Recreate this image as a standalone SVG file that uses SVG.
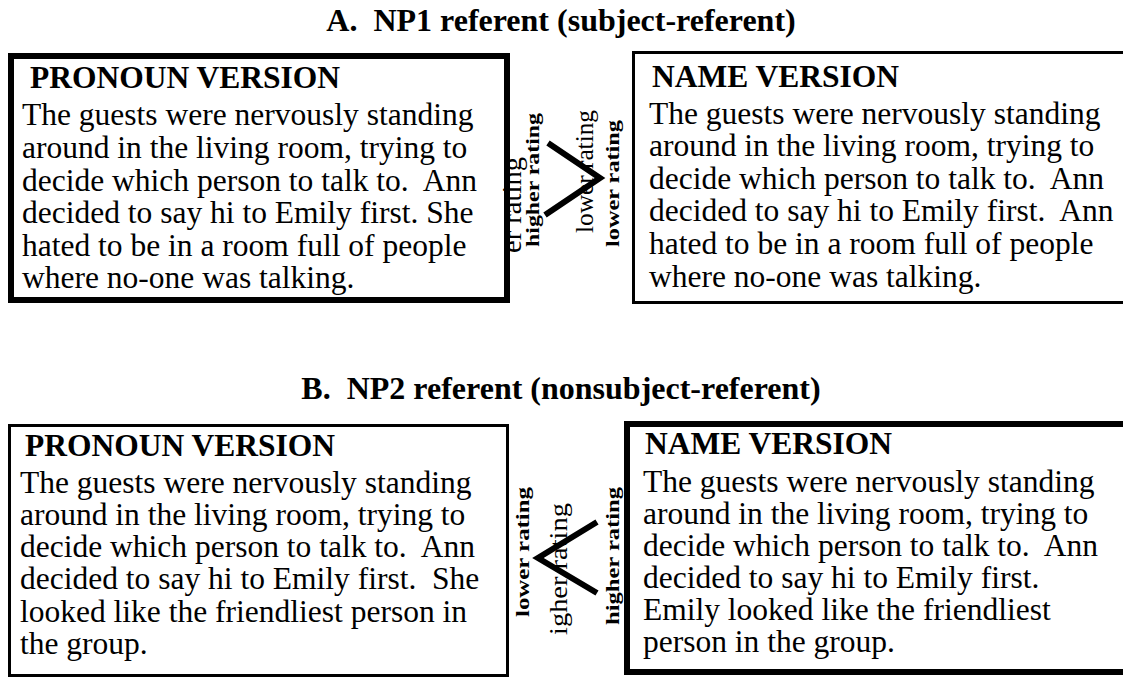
<svg xmlns="http://www.w3.org/2000/svg" width="1123" height="692" viewBox="0 0 1123 692">
<style>
text{font-family:"Liberation Serif","Times New Roman",Times,serif;fill:#000}
.title{font-weight:bold;font-size:32px;white-space:pre}
.head{font-weight:bold;font-size:31.5px}
.body{font-size:31.5px;white-space:pre}
.rot{font-size:25px}
.cond{font-weight:bold;font-size:18px}
.box{fill:#fff;stroke:#000}
.vline{fill:none;stroke:#000;stroke-width:6;stroke-linejoin:miter}
</style>
<rect width="1123" height="692" fill="#fff"/>
<text class="title" x="561" y="31" text-anchor="middle">A.  NP1 referent (subject-referent)</text>
<text class="title" x="561" y="399" text-anchor="middle">B.  NP2 referent (nonsubject-referent)</text>

<g id="a-pronoun">
<rect class="box" x="11" y="56" width="496" height="244" stroke-width="6"/>
<text class="head" x="30" y="88">PRONOUN VERSION</text>
<text class="body" x="22" y="125">The guests were nervously standing</text>
<text class="body" x="22" y="158">around in the living room, trying to</text>
<text class="body" x="22" y="191">decide which person to talk to.  Ann</text>
<text class="body" x="22" y="223">decided to say hi to Emily first. She</text>
<text class="body" x="22" y="256">hated to be in a room full of people</text>
<text class="body" x="22" y="288">where no-one was talking.</text>
</g>

<g id="a-name">
<rect class="box" x="633.5" y="52.5" width="495" height="250" stroke-width="3"/>
<text class="head" x="652" y="87">NAME VERSION</text>
<text class="body" x="649" y="124">The guests were nervously standing</text>
<text class="body" x="649" y="156">around in the living room, trying to</text>
<text class="body" x="649" y="189">decide which person to talk to.  Ann</text>
<text class="body" x="649" y="221">decided to say hi to Emily first.  Ann</text>
<text class="body" x="649" y="254">hated to be in a room full of people</text>
<text class="body" x="649" y="287">where no-one was talking.</text>
</g>

<g id="b-pronoun">
<rect class="box" x="9.5" y="425.5" width="498" height="250" stroke-width="3"/>
<text class="head" x="25" y="456">PRONOUN VERSION</text>
<text class="body" x="20" y="493">The guests were nervously standing</text>
<text class="body" x="20" y="525">around in the living room, trying to</text>
<text class="body" x="20" y="557">decide which person to talk to.  Ann</text>
<text class="body" x="20" y="589">decided to say hi to Emily first.  She</text>
<text class="body" x="20" y="622">looked like the friendliest person in</text>
<text class="body" x="20" y="654">the group.</text>
</g>

<g id="b-name">
<rect class="box" x="627" y="424" width="500" height="248" stroke-width="6"/>
<text class="head" x="645" y="454">NAME VERSION</text>
<text class="body" x="643" y="492">The guests were nervously standing</text>
<text class="body" x="643" y="524">around in the living room, trying to</text>
<text class="body" x="643" y="556">decide which person to talk to.  Ann</text>
<text class="body" x="643" y="588">decided to say hi to Emily first.</text>
<text class="body" x="643" y="620">Emily looked like the friendliest</text>
<text class="body" x="643" y="652">person in the group.</text>
</g>

<g id="a-ratings">
<text class="rot" transform="translate(521,253) rotate(-90)" style="font-size:28px" textLength="96" lengthAdjust="spacingAndGlyphs">er rating</text>
<text class="cond" transform="translate(539,247) rotate(-90)" textLength="134" lengthAdjust="spacingAndGlyphs">higher rating</text>
<text class="rot" transform="translate(593,233) rotate(-90)" textLength="123" lengthAdjust="spacingAndGlyphs">lower rating</text>
<text class="cond" transform="translate(619,247) rotate(-90)" textLength="127" lengthAdjust="spacingAndGlyphs">lower rating</text>
</g>

<g id="b-ratings">
<text class="cond" transform="translate(529,617) rotate(-90)" textLength="130" lengthAdjust="spacingAndGlyphs">lower rating</text>
<text class="rot" transform="translate(567,635) rotate(-90)" textLength="132" lengthAdjust="spacingAndGlyphs">igher rating</text>
<text class="cond" transform="translate(619,625) rotate(-90)" textLength="138" lengthAdjust="spacingAndGlyphs">higher rating</text>
</g>

<g id="connectors">
<polyline class="vline" points="548,143 600,178 545,215"/>
<polyline class="vline" points="597,522 538,558 597,593"/>
</g>
</svg>
